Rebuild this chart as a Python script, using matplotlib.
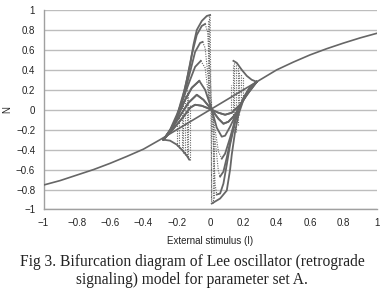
import matplotlib
matplotlib.use("Agg")
import matplotlib.pyplot as plt

# main branch (fixed point)
I_main = [-1.0, -0.9, -0.8, -0.7, -0.6, -0.5, -0.4, -0.3, -0.2, -0.1, 0.0,
          0.1, 0.2, 0.3, 0.4, 0.5, 0.6, 0.7, 0.8, 0.9, 1.0]
N_main = [-0.755, -0.71, -0.655, -0.6, -0.537, -0.468, -0.395, -0.3, -0.2, -0.1, 0.0,
          0.1, 0.2, 0.3, 0.4, 0.478, 0.55, 0.612, 0.668, 0.72, 0.766]

# oscillating branches (one per wave, outermost first)
I_c1 = [-0.28, -0.24, -0.2, -0.18, -0.15, -0.12, -0.1, -0.08, -0.05, -0.02, 0.0,
        0.01, 0.06, 0.1, 0.12, 0.13, 0.15, 0.17, 0.2, 0.24, 0.28]
N_c1 = [-0.3, -0.22, -0.08, 0.05, 0.22, 0.45, 0.65, 0.8, 0.89, 0.94, 0.95,
        -0.94, -0.89, -0.81, -0.6, -0.45, -0.22, -0.05, 0.1, 0.22, 0.28]
I_c2 = [-0.28, -0.24, -0.2, -0.17, -0.14, -0.11, -0.08, -0.05, -0.03, -0.015, 0.0,
        0.01, 0.02, 0.03, 0.04, 0.06, 0.08, 0.1, 0.12, 0.15, 0.18, 0.22, 0.28]
N_c2 = [-0.3, -0.22, -0.08, 0.08, 0.3, 0.55, 0.75, 0.84, 0.86, 0.78, 0.35,
        0.0, -0.35, -0.75, -0.85, -0.84, -0.74, -0.55, -0.35, -0.12, 0.04, 0.17, 0.28]
I_c3 = [-0.28, -0.24, -0.2, -0.16, -0.12, -0.09, -0.06, -0.045, -0.03, -0.015, 0.01,
        0.035, 0.05, 0.06, 0.08, 0.1, 0.13, 0.16, 0.2, 0.24, 0.28]
N_c3 = [-0.3, -0.21, -0.07, 0.12, 0.38, 0.58, 0.67, 0.68, 0.62, 0.38, 0.0,
        -0.38, -0.62, -0.67, -0.62, -0.48, -0.25, -0.05, 0.12, 0.23, 0.28]
I_c4 = [-0.28, -0.24, -0.2, -0.16, -0.12, -0.09, -0.056, -0.03, -0.01, 0.01,
        0.03, 0.05, 0.07, 0.09, 0.12, 0.15, 0.19, 0.23, 0.28]
N_c4 = [-0.3, -0.2, -0.05, 0.12, 0.3, 0.43, 0.49, 0.42, 0.15, 0.0,
        -0.2, -0.42, -0.49, -0.44, -0.28, -0.1, 0.07, 0.2, 0.28]
I_c5 = [-0.28, -0.23, -0.19, -0.15, -0.11, -0.065, -0.03, 0.01, 0.04, 0.07,
        0.09, 0.12, 0.16, 0.2, 0.24, 0.28]
N_c5 = [-0.3, -0.18, -0.05, 0.1, 0.22, 0.29, 0.2, 0.0, -0.18, -0.27,
        -0.26, -0.17, -0.03, 0.1, 0.22, 0.28]
I_c6 = [-0.28, -0.23, -0.18, -0.13, -0.08, -0.04, 0.01, 0.05, 0.08, 0.11,
        0.15, 0.19, 0.23, 0.28]
N_c6 = [-0.3, -0.19, -0.06, 0.07, 0.15, 0.1, 0.0, -0.09, -0.14, -0.12,
        -0.05, 0.07, 0.19, 0.28]
I_c7 = [-0.28, -0.22, -0.16, -0.12, -0.09, -0.05, 0.01, 0.05, 0.09, 0.13,
        0.18, 0.23, 0.28]
N_c7 = [-0.3, -0.19, -0.07, 0.02, 0.05, 0.04, 0.0, -0.03, -0.05, -0.03,
        0.05, 0.17, 0.28]

# outer lobes of the two fans
I_lobe_lo = [-0.28, -0.24, -0.2, -0.17, -0.14, -0.125]
N_lobe_lo = [-0.3, -0.31, -0.35, -0.4, -0.46, -0.5]
I_lobe_hi = [0.14, 0.16, 0.19, 0.22, 0.25, 0.28]
N_lobe_hi = [0.49, 0.47, 0.4, 0.34, 0.3, 0.28]

# scattered (chaotic) columns: I, lowest N, highest N
I_dots = [-0.2, -0.185, -0.17, -0.16, -0.15, -0.14, -0.13, -0.12,
          -0.012, -0.004, 0.006, 0.016, 0.025,
          0.125, 0.135, 0.145, 0.155, 0.165, 0.175, 0.185, 0.2]
N_dots_lo = [-0.36, -0.38, -0.4, -0.43, -0.45, -0.47, -0.49, -0.5,
             0.1, 0.0, -0.9, -0.93, -0.88,
             0.0, -0.12, -0.2, -0.22, -0.15, -0.05, 0.05, 0.12]
N_dots_hi = [-0.12, -0.02, 0.08, 0.15, 0.2, 0.22, 0.18, 0.05,
             0.9, 0.95, 0.1, -0.05, -0.3,
             0.25, 0.45, 0.49, 0.47, 0.43, 0.39, 0.36, 0.33]

waves = [(I_c1, N_c1), (I_c2, N_c2), (I_c3, N_c3), (I_c4, N_c4),
         (I_c5, N_c5), (I_c6, N_c6), (I_c7, N_c7)]

col = "#666666"
plt.rcParams["font.family"] = ["Liberation Sans", "DejaVu Sans"]

fig = plt.figure(figsize=(3.84, 3.03), dpi=100)
ax = fig.add_axes([0.1133, 0.3086, 0.8677, 0.6584])

ax.plot(I_main, N_main, color=col, lw=1.2, zorder=3)
for xs, ys in waves:
    top = ys.index(max(ys))
    bot = ys.index(min(ys))
    ax.plot(xs[:top + 1], ys[:top + 1], color=col, lw=1.3, zorder=3)
    ax.plot(xs[top:bot + 1], ys[top:bot + 1], color=col, lw=0.8,
            ls=(0, (1, 1.2)), zorder=3)
    ax.plot(xs[bot:], ys[bot:], color=col, lw=1.3, zorder=3)
ax.plot(I_lobe_lo, N_lobe_lo, color=col, lw=1.3, zorder=3)
ax.plot(I_lobe_hi, N_lobe_hi, color=col, lw=1.3, zorder=3)
ax.vlines(I_dots, N_dots_lo, N_dots_hi, colors=col, lw=0.8,
          linestyles=(0, (1, 1.2)), zorder=3)

ax.set_xlim(-1, 1)
ax.set_ylim(-1, 1)
ax.set_xticks([-1, -0.8, -0.6, -0.4, -0.2, 0, 0.2, 0.4, 0.6, 0.8, 1])
ax.set_yticks([-1, -0.8, -0.6, -0.4, -0.2, 0, 0.2, 0.4, 0.6, 0.8, 1])
fmt = lambda v: "0" if v == 0 else ("1" if v == 1 else ("\u22121" if v == -1 else
      ("%.1f" % v).replace("-", "\u2212")))
ax.set_xticklabels([fmt(v) for v in ax.get_xticks()])
ax.set_yticklabels([fmt(v) for v in ax.get_yticks()])
ax.tick_params(length=0, labelsize=7, colors="#222222", pad=6)
ax.grid(axis="y", color="#bdbdbd", lw=1.0)
ax.set_axisbelow(True)
for s in ["top", "right"]:
    ax.spines[s].set_visible(False)
for s in ["left", "bottom"]:
    ax.spines[s].set_color("#a0a0a0")
    ax.spines[s].set_linewidth(1.0)

ax.set_xlabel("External stimulus (I)", fontsize=7, color="#222222", labelpad=6)
ax.set_ylabel("N", fontsize=7, color="#222222")
ax.yaxis.set_label_coords(-0.095, 0.5)

fig.text(0.5, 1 - 262 / 303, "Fig 3. Bifurcation diagram of Lee oscillator (retrograde",
         ha="center", va="center", fontsize=11.2, family="Liberation Serif", color="#222222")
fig.text(0.5, 1 - 280 / 303, "signaling) model for parameter set A.",
         ha="center", va="center", fontsize=11.2, family="Liberation Serif", color="#222222")

fig.savefig("out.png", dpi=100)
